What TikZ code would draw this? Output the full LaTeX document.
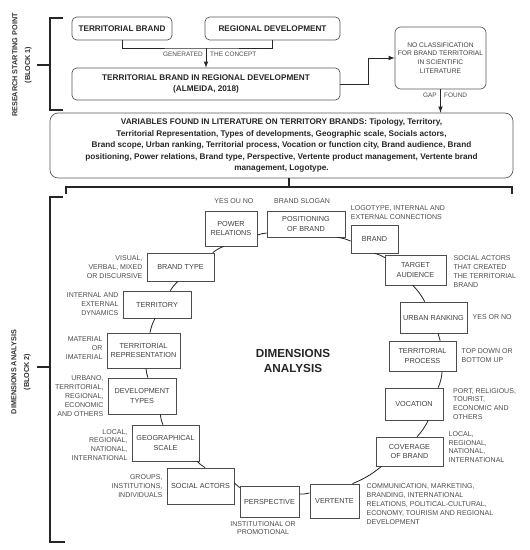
\documentclass[tikz,border=0pt]{standalone}
\usepackage{fontspec}
\setmainfont{Liberation Sans}
\usetikzlibrary{positioning}

\newcommand{\boxfont}{\fontsize{6.2}{8.3}\selectfont}
\newcommand{\lblfont}{\fontsize{6}{7.6}\selectfont}
\newcommand{\tinyfont}{\fontsize{5.5}{7}\selectfont}
\newcommand{\headfont}{\fontsize{7}{9.8}\selectfont\bfseries}

\tikzset{
  startbox/.style={draw=black!65, line width=0.6pt, rounded corners=4pt,
    align=center, inner sep=1pt, font=\headfont, text=black!85},
  dimbox/.style={draw=black!70, line width=0.6pt, align=center,
    inner sep=1pt, font=\boxfont, text=black!75},
  lbl/.style={inner sep=0pt, font=\lblfont, text=black!70},
  link/.style={draw=black!85, line width=0.8pt},
  bracket/.style={draw=black!85, line width=0.9pt},
  blocklbl/.style={rotate=90, align=center, text=black!80,
    font=\fontsize{6.2}{11}\selectfont\bfseries},
}

\begin{document}
\begin{tikzpicture}[x=0.03cm, y=-0.03cm, >=latex, node distance=3.4pt]
  \useasboundingbox (0,0) rectangle (530,550);

  % block 1
  \node[blocklbl] (blockone) at (22,65) {RESEARCH STARTING POINT\\(BLOCK 1)};
  \draw[bracket] (63,18) -- (50,18) -- (50,110) -- (63,110);
  \draw[bracket] (37,65) -- (50,65);

  \node[startbox, minimum width=3cm, minimum height=0.69cm]
  (terrbrand) at (122,28.5) {TERRITORIAL BRAND};
  \node[startbox, minimum width=4.05cm, minimum height=0.69cm]
  (regdev) at (272.5,28.5) {REGIONAL DEVELOPMENT};
  \node[startbox, minimum width=8.04cm, minimum height=0.96cm]
  (trd) at (206,84) {TERRITORIAL BRAND IN REGIONAL DEVELOPMENT\\(ALMEIDA, 2018)};
  \node[draw=black!65, line width=0.6pt, rounded corners=5pt, align=center,
  inner sep=1pt, minimum width=2.73cm, minimum height=1.86cm, text=black!75,
  font=\fontsize{5.7}{7.4}\selectfont]
  (noclass) at (440.5,58) {NO CLASSIFICATION\\FOR BRAND TERRITORIAL\\IN SCIENTIFIC\\LITERATURE};

  \coordinate (concept) at (206,48);
  \draw[link] (terrbrand.south) |- (concept) -| (regdev.south);
  \draw[link, ->] (concept) -- (trd);
  \node[lbl, font=\tinyfont, anchor=east] (genlbl) at (203,54) {GENERATED};
  \node[lbl, font=\tinyfont, anchor=west] (conceptlbl) at (210,54) {THE CONCEPT};

  \draw[link, ->] (trd.east) -- ++(28,0) |- (noclass.west);

  \node[startbox, rounded corners=7pt, minimum width=13.89cm,
  minimum height=1.95cm] (variables) at (281.5,145.5) {
    VARIABLES FOUND IN LITERATURE ON TERRITORY BRANDS: Tipology, Territory,\\
    Territorial Representation, Types of developments, Geographic scale, Socials actors,\\
    Brand scope, Urban ranking, Territorial process, Vocation or function city, Brand audience, Brand\\
    positioning, Power relations, Brand type, Perspective, Vertente product management, Vertente brand\\
    management, Logotype.
  };

  \draw[link, ->] (noclass) -- (noclass |- variables.north);
  \node[lbl, font=\tinyfont, anchor=east] (gaplbl) at (437,95) {GAP};
  \node[lbl, font=\tinyfont, anchor=west] (foundlbl) at (444,95) {FOUND};

  % block 2
  \node[blocklbl] (blocktwo) at (21,372) {DIMENSIONS ANALYSIS\\(BLOCK 2)};
  \coordinate (split) at (289,187);
  \draw[bracket] (variables.south -| split) -- (split);
  \draw[bracket] (66,194) -- (66,187) -- (512,187) -- (512,194);
  \draw[bracket] (63,197) -- (50,197) -- (50,542) -- (65,542);
  \draw[bracket] (37,367) -- (50,367);

  \node[font=\fontsize{10}{13.5}\selectfont\bfseries, text=black!85,
  align=center] (dimcenter) at (293,361) {DIMENSIONS\\ANALYSIS};

  \node[dimbox, minimum width=1.56cm, minimum height=1.05cm]
  (powrel) at (231,228.5) {POWER\\RELATIONS};
  \node[dimbox, minimum width=2.34cm, minimum height=0.78cm]
  (posbrand) at (306,224) {POSITIONING\\OF BRAND};
  \node[dimbox, minimum width=1.41cm, minimum height=0.84cm]
  (brand) at (374.5,239) {BRAND};
  \node[dimbox, minimum width=1.83cm, minimum height=0.9cm]
  (target) at (415.5,270) {TARGET\\AUDIENCE};
  \node[dimbox, minimum width=2.01cm, minimum height=0.93cm]
  (urban) at (433.5,317.5) {URBAN RANKING};
  \node[dimbox, minimum width=2.01cm, minimum height=0.9cm]
  (terrproc) at (422.5,356) {TERRITORIAL\\PROCESS};
  \node[dimbox, minimum width=1.74cm, minimum height=0.96cm]
  (vocation) at (414,404) {VOCATION};
  \node[dimbox, minimum width=2.01cm, minimum height=0.87cm]
  (coverage) at (409.5,451.5) {COVERAGE\\OF BRAND};
  \node[dimbox, minimum width=1.47cm, minimum height=1.02cm]
  (vertente) at (334.5,501) {VERTENTE};
  \node[dimbox, minimum width=1.77cm, minimum height=0.93cm]
  (perspective) at (269.5,501.5) {PERSPECTIVE};
  \node[dimbox, minimum width=2.01cm, minimum height=1.08cm]
  (socact) at (200.5,486) {SOCIAL ACTORS};
  \node[dimbox, minimum width=2.01cm, minimum height=1.08cm]
  (geoscale) at (165.5,443) {GEOGRAPHICAL\\SCALE};
  \node[dimbox, minimum width=2.04cm, minimum height=1.08cm]
  (devtypes) at (142,396) {DEVELOPMENT\\TYPES};
  \node[dimbox, minimum width=2.19cm, minimum height=1.05cm]
  (terrrep) at (143.5,350.5) {TERRITORIAL\\REPRESENTATION};
  \node[dimbox, minimum width=2.04cm, minimum height=0.81cm]
  (territory) at (157,304.5) {TERRITORY};
  \node[dimbox, minimum width=2.01cm, minimum height=0.84cm]
  (brandtype) at (180.5,267) {BRAND TYPE};

  % labels round the ring
  \node[lbl, above=5.5pt of powrel, xshift=2.5pt] (powrellbl) {YES OU NO};
  \node[lbl, above=5.5pt of posbrand, xshift=-3.4pt] (posbrandlbl) {BRAND SLOGAN};
  \node[lbl, align=left, anchor=south west, yshift=3.8pt]
  (brandlbl) at (brand.north west) {LOGOTYPE, INTERNAL AND\\EXTERNAL CONNECTIONS};
  \node[lbl, align=left, right=6pt of target, yshift=-1.3pt]
  (targetlbl) {SOCIAL ACTORS\\THAT CREATED\\THE TERRITORIAL\\BRAND};
  \node[lbl, right=4.3pt of urban] (urbanlbl) {YES OR NO};
  \node[lbl, align=left, right=4.3pt of terrproc]
  (terrproclbl) {TOP DOWN OR\\BOTTOM UP};
  \node[lbl, align=left, right=8.2pt of vocation]
  (vocationlbl) {PORT, RELIGIOUS,\\TOURIST,\\ECONOMIC AND\\OTHERS};
  \node[lbl, align=left, right=4.3pt of coverage, yshift=3.8pt]
  (coveragelbl) {LOCAL,\\REGIONAL,\\NATIONAL,\\INTERNATIONAL};
  \node[lbl, align=left, right=6pt of vertente, yshift=-2.6pt]
  (vertentelbl) {COMMUNICATION, MARKETING,\\BRANDING, INTERNATIONAL\\RELATIONS, POLITICAL-CULTURAL,\\ECONOMY, TOURISM AND REGIONAL\\DEVELOPMENT};
  \node[lbl, align=center, below=3pt of perspective, xshift=-5.5pt]
  (perspectivelbl) {INSTITUTIONAL OR\\PROMOTIONAL};
  \node[lbl, align=right, left=of socact]
  (socactlbl) {GROUPS,\\INSTITUTIONS,\\INDIVIDUALS};
  \node[lbl, align=right, left=of geoscale, yshift=-1.7pt]
  (geoscalelbl) {LOCAL,\\REGIONAL,\\NATIONAL,\\INTERNATIONAL};
  \node[lbl, align=right, left=of devtypes]
  (devtypeslbl) {URBANO,\\TERRITORIAL,\\REGIONAL,\\ECONOMIC\\AND OTHERS};
  \node[lbl, align=right, left=of terrrep, yshift=2pt]
  (terrreplbl) {MATERIAL\\OR\\IMATERIAL};
  \node[lbl, align=right, left=of territory]
  (territorylbl) {INTERNAL AND\\EXTERNAL\\DYNAMICS};
  \node[lbl, align=right, left=of brandtype]
  (brandtypelbl) {VISUAL,\\VERBAL, MIXED\\OR DISCURSIVE};

  % the ring
  \path[draw=black!85, line width=0.7pt]
  (brandtype.24) edge[bend left=8] (powrel.248)
  (powrel.346) edge[bend left=8] (posbrand.193)
  (posbrand.337) edge[bend left=8] (brand.185)
  (brand.south) edge[bend left=8] (target.158)
  (target.260) edge[bend left=8] (urban.119)
  (urban.286) edge[bend left=8] (terrproc.41)
  (terrproc.322) edge[bend left=8] (vocation.34)
  (vocation.311) edge[bend left=8] (coverage.63)
  (coverage.208) edge[bend left=8] (vertente.44)
  (vertente.162) edge[bend left=8] (perspective.14)
  (perspective.155) edge[bend left=8] (socact.5)
  (socact.76) edge[bend left=8] (geoscale.330)
  (geoscale.98) edge[bend left=8] (devtypes.315)
  (devtypes.72) edge[bend left=8] (terrrep.278)
  (terrrep.70) edge[bend left=8] (territory.262)
  (territory.46) edge[bend left=8] (brandtype.260);
\end{tikzpicture}
\end{document}
